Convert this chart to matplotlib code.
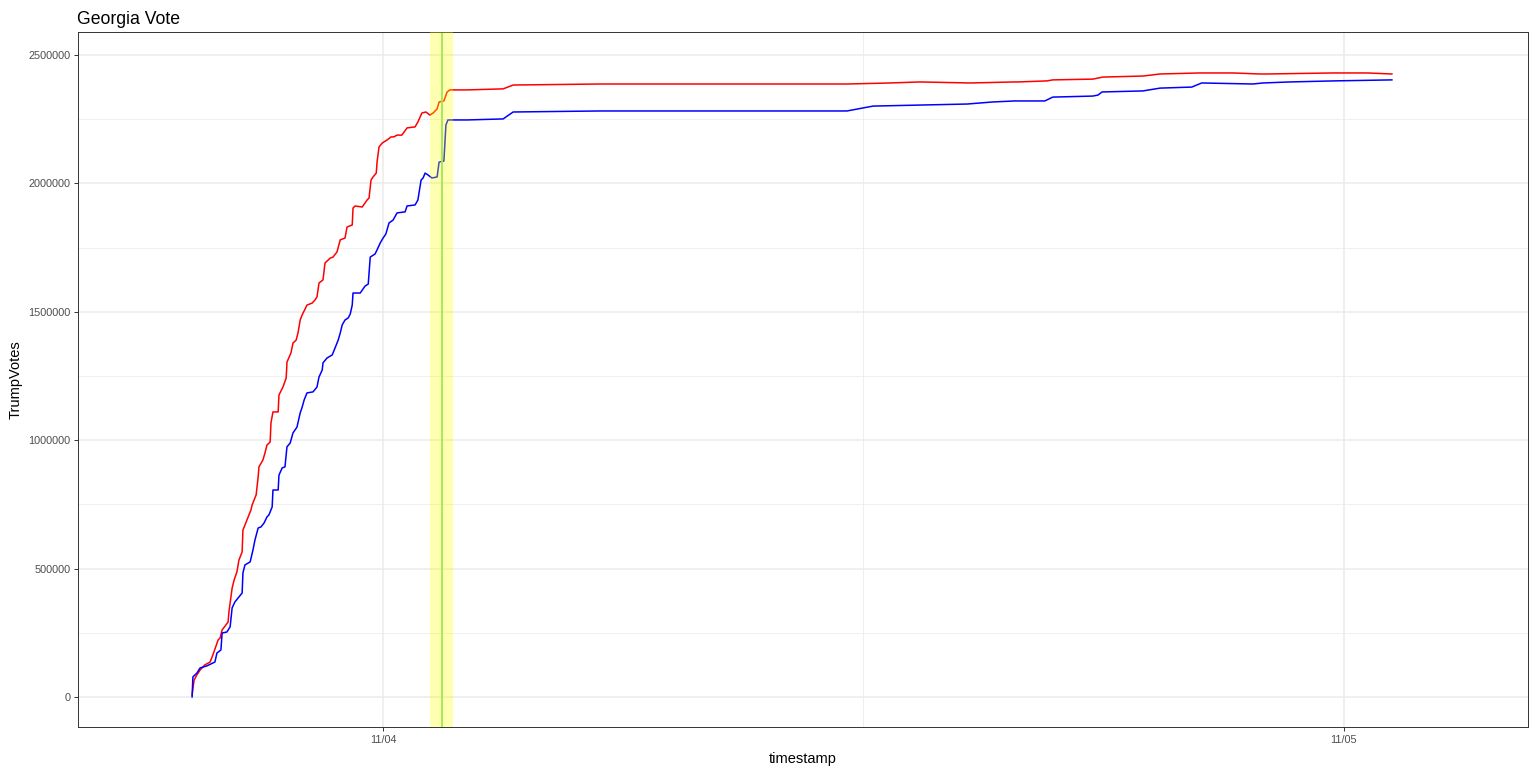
import matplotlib
matplotlib.use("Agg")
import matplotlib.pyplot as plt
from matplotlib.ticker import FixedLocator, FixedFormatter

plt.rcParams['font.family'] = ['Liberation Sans', 'DejaVu Sans']

# Hours relative to 11/04 00:00, vote counts in thousands
red_hours = [-4.77, -4.72, -4.65, -4.57, -4.45, -4.32, -4.25, -4.12, -4.07, -4.02,
             -3.87, -3.85, -3.77, -3.72, -3.65, -3.60, -3.52, -3.50, -3.40, -3.30,
             -3.27, -3.17, -3.12, -3.10, -3.00, -2.95, -2.90, -2.82, -2.80, -2.75,
             -2.62, -2.60, -2.50, -2.42, -2.40, -2.30, -2.25, -2.17, -2.12, -2.07,
             -2.02, -1.90, -1.77, -1.70, -1.65, -1.60, -1.50, -1.45, -1.32, -1.25,
             -1.15, -1.07, -0.95, -0.90, -0.77, -0.75, -0.70, -0.52, -0.40, -0.35,
             -0.30, -0.25, -0.17, -0.15, -0.10, -0.02, 0.10, 0.20, 0.27, 0.35,
             0.47, 0.60, 0.80, 0.87, 0.97, 1.07, 1.17, 1.25, 1.35, 1.40,
             1.52, 1.60, 1.67, 2.10, 3.00, 3.25, 5.42, 11.59, 12.66, 13.41,
             14.66, 15.78, 15.86, 16.58, 16.73, 17.73, 17.98, 18.98, 19.41, 20.40,
             21.23, 21.90, 22.08, 23.73, 24.58, 25.20]
red_votes_k = [8, 66, 86, 105, 125, 136, 164, 222, 230, 261,
               292, 331, 424, 456, 487, 533, 565, 650, 689, 728,
               748, 787, 857, 896, 923, 950, 981, 993, 1067, 1110,
               1110, 1176, 1207, 1242, 1304, 1340, 1378, 1390, 1421, 1468,
               1488, 1526, 1534, 1546, 1558, 1612, 1624, 1690, 1709, 1713,
               1733, 1780, 1787, 1830, 1838, 1904, 1912, 1908, 1935, 1943,
               2013, 2025, 2040, 2083, 2142, 2157, 2169, 2181, 2181, 2188,
               2188, 2216, 2220, 2239, 2274, 2278, 2266, 2274, 2290, 2317,
               2321, 2356, 2364, 2364, 2368, 2383, 2387, 2387, 2391, 2395,
               2391, 2395, 2395, 2399, 2403, 2406, 2414, 2418, 2426, 2430,
               2430, 2426, 2426, 2430, 2430, 2426]

blue_hours = [-4.77, -4.75, -4.65, -4.57, -4.40, -4.20, -4.15, -4.05, -4.02, -3.90,
              -3.82, -3.77, -3.70, -3.52, -3.50, -3.45, -3.32, -3.25, -3.20, -3.12,
              -3.05, -2.97, -2.90, -2.85, -2.77, -2.75, -2.62, -2.60, -2.52, -2.45,
              -2.40, -2.32, -2.25, -2.15, -2.07, -2.02, -1.97, -1.90, -1.75, -1.65,
              -1.60, -1.52, -1.50, -1.40, -1.27, -1.22, -1.12, -1.07, -1.02, -0.95,
              -0.87, -0.82, -0.77, -0.75, -0.57, -0.45, -0.37, -0.32, -0.20, -0.15,
              -0.07, 0.00, 0.07, 0.15, 0.25, 0.35, 0.55, 0.60, 0.80, 0.87,
              0.95, 1.00, 1.05, 1.12, 1.22, 1.35, 1.40, 1.52, 1.57, 1.62,
              2.10, 3.00, 3.25, 5.42, 11.59, 12.24, 14.59, 15.23, 15.78, 16.53,
              16.73, 17.73, 17.86, 17.96, 18.98, 19.41, 20.20, 20.45, 21.73, 21.98,
              22.65, 23.73, 25.20]
blue_votes_k = [0, 78, 93, 113, 121, 136, 171, 183, 249, 253,
                273, 347, 370, 405, 483, 514, 526, 572, 611, 658,
                662, 678, 701, 709, 740, 806, 806, 864, 892, 896,
                974, 989, 1028, 1051, 1106, 1129, 1157, 1184, 1188, 1207,
                1246, 1273, 1301, 1320, 1332, 1351, 1390, 1417, 1449, 1468,
                1476, 1491, 1526, 1573, 1573, 1600, 1608, 1713, 1725, 1741,
                1768, 1787, 1803, 1846, 1857, 1885, 1889, 1912, 1916, 1935,
                2013, 2021, 2040, 2033, 2021, 2025, 2083, 2087, 2227, 2247,
                2247, 2251, 2278, 2282, 2282, 2301, 2309, 2317, 2321, 2321,
                2336, 2340, 2344, 2356, 2360, 2371, 2375, 2391, 2387, 2391,
                2395, 2399, 2403]

highlight_start, highlight_end = 1.17, 1.75
marker_hour = 1.47
x_tick_hours = [0, 24]
x_tick_labels = ["11/04", "11/05"]
y_ticks = [0, 500000, 1000000, 1500000, 2000000, 2500000]

fig = plt.figure(figsize=(15.38, 7.71), dpi=100)
ax = fig.add_axes([78/1538, 1-727/771, (1528-78)/1538, (727-32)/771])

grid_c = '#EBEBEB'
ax.set_xlim(-7.62, 28.60)
ax.set_ylim(-117000, 2589500)

ax.xaxis.set_major_locator(FixedLocator(x_tick_hours))
ax.xaxis.set_major_formatter(FixedFormatter(x_tick_labels))
ax.xaxis.set_minor_locator(FixedLocator([12]))
ax.yaxis.set_major_locator(FixedLocator(y_ticks))
ax.yaxis.set_major_formatter(FixedFormatter([str(v) for v in y_ticks]))
ax.yaxis.set_minor_locator(FixedLocator([250000, 750000, 1250000, 1750000, 2250000]))

ax.grid(True, which='major', color=grid_c, lw=1.1, zorder=0)
ax.grid(True, which='minor', color=grid_c, lw=0.55, zorder=0)
ax.set_axisbelow(True)

ax.plot(red_hours, [v*1000 for v in red_votes_k], color='#FF0000', lw=1.1, zorder=2)
ax.plot(blue_hours, [v*1000 for v in blue_votes_k], color='#0000FF', lw=1.1, zorder=2)

ax.axvline(marker_hour, color='#77DD77', lw=1.3, zorder=2.5)
ax.axvspan(highlight_start, highlight_end, color='yellow', alpha=0.3, lw=0, zorder=3)

for s in ax.spines.values():
    s.set_color('#333333')
    s.set_linewidth(0.7)

ax.tick_params(which='major', length=3, width=0.7, color='#333333',
               labelsize=7.8, labelcolor='#4D4D4D', pad=2.5)
ax.tick_params(which='minor', length=0)

ax.set_xlabel('timestamp', fontsize=10.5, color='black', labelpad=5)
ax.set_ylabel('TrumpVotes', fontsize=10.5, color='black', labelpad=4)
ax.set_title('Georgia Vote', loc='left', fontsize=12.7, color='black', pad=6, x=-0.001)

fig.savefig('out.png', dpi=100)
